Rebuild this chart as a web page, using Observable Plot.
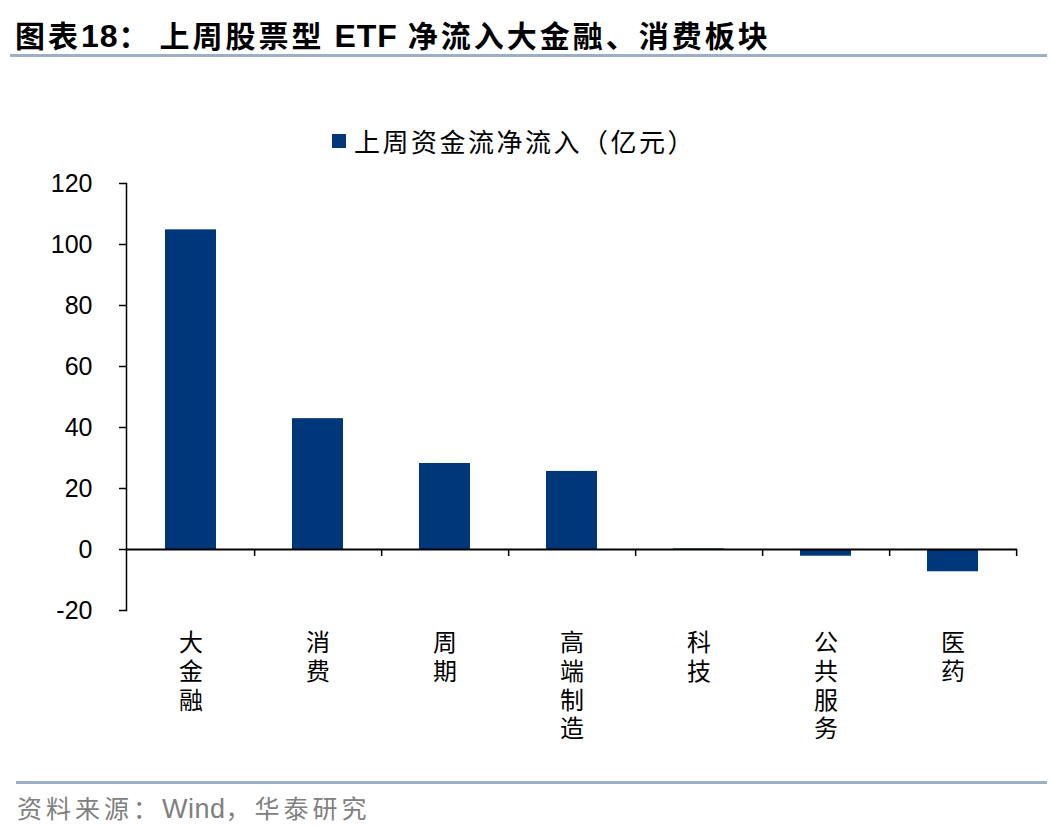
<!DOCTYPE html>
<html>
<head>
<meta charset="utf-8">
<script src="https://cdn.jsdelivr.net/npm/d3@7"></script>
<script src="https://cdn.jsdelivr.net/npm/@observablehq/plot@0.6"></script>
<style>
  html, body { margin: 0; padding: 0; background: #fff; }
  #page { position: relative; width: 1052px; height: 826px; overflow: hidden; font-family: "Noto Sans CJK SC", "Noto Sans", sans-serif; }
  #title { position: absolute; left: 15px; top: 12px; font-size: 30px; font-weight: bold; color: #000; letter-spacing: 3px; white-space: nowrap; }
  #title .latin { font-family: "Liberation Sans", Arial, sans-serif; font-size: 32px; letter-spacing: 1px; }
  #title .gap { display: inline-block; width: 8px; }
  .rule { position: absolute; height: 3px; background: #9cafc9; }
  #legend { position: absolute; left: 332px; top: 122px; font-size: 26px; color: #000; display: flex; align-items: center; white-space: nowrap; letter-spacing: 2.5px; }
  #legend .sw { width: 14px; height: 14px; background: #00377A; margin-right: 8px; }
  #chart { position: absolute; left: 0; top: 160px; }
  #source { position: absolute; left: 17px; top: 789px; font-size: 25px; color: #808080; letter-spacing: 4px; white-space: nowrap; }
  #source .latin { font-family: "Liberation Sans", Arial, sans-serif; font-size: 27px; letter-spacing: 0.5px; }
</style>
</head>
<body>
<div id="page">
  <div id="title">图表<span class="latin">18</span>：<span class="gap"></span>上周股票型 <span class="latin">ETF</span> 净流入大金融、消费板块</div>
  <div class="rule" style="left:10px; width:1037px; top:54px;"></div>
  <div id="legend"><div class="sw"></div><span id="legendText"></span></div>
  <div id="chart"></div>
  <div class="rule" style="left:16px; width:1031px; top:781px;"></div>
  <div id="source">资料来源：<span class="latin">Wind</span>，华泰研究</div>
</div>
<script>
// ---- data ----
const categories = ["大金融", "消费", "周期", "高端制造", "科技", "公共服务", "医药"];
const netInflow = [104.8, 42.9, 28.2, 25.6, 0.2, -2.2, -7.3];
const yTicks = [-20, 0, 20, 40, 60, 80, 100, 120];
const seriesName = "上周资金流净流入（亿元）";

document.getElementById("legendText").textContent = seriesName;

const rows = categories.map((c, i) => ({cat: c, value: netInflow[i]}));

const W = 1052, H = 600;
const mL = 126, mR = 35, mT = 23, mB = 150;
const step = (W - mL - mR) / categories.length;

const chart = Plot.plot({
  width: W,
  height: H,
  marginLeft: mL,
  marginRight: mR,
  marginTop: mT,
  marginBottom: mB,
  style: {background: "#fff", color: "#000"},
  x: {type: "band", domain: categories, padding: 0, axis: null},
  y: {domain: [-20, 120], axis: null},
  marks: [
    Plot.barY(rows, {x: "cat", y: "value", fill: "#00377A", insetLeft: 38, insetRight: 38}),
    Plot.frame({anchor: "left", stroke: "#000", strokeWidth: 1.5}),
    Plot.ruleY([0], {stroke: "#000", strokeWidth: 2}),
    Plot.ruleX(categories, {x: d => d, y1: 0, y2: 0, insetBottom: -7, dx: step / 2, stroke: "#000", strokeWidth: 1.5}),
    Plot.axisY({ticks: yTicks, tickSize: 7, tickPadding: 27, tickFormat: d => String(d), label: null,
      fontSize: 25, fontFamily: "Liberation Sans, Arial, sans-serif", stroke: "#000", strokeWidth: 1.5, fill: "#000"}),
    Plot.text(categories, {x: d => d, y: -20, text: d => Array.from(d).join("\n"),
      lineAnchor: "top", dy: 20, fontSize: 24, lineHeight: 1.2,
      fontFamily: "Noto Sans CJK SC", fill: "#000"})
  ]
});
document.getElementById("chart").appendChild(chart);
</script>
</body>
</html>
